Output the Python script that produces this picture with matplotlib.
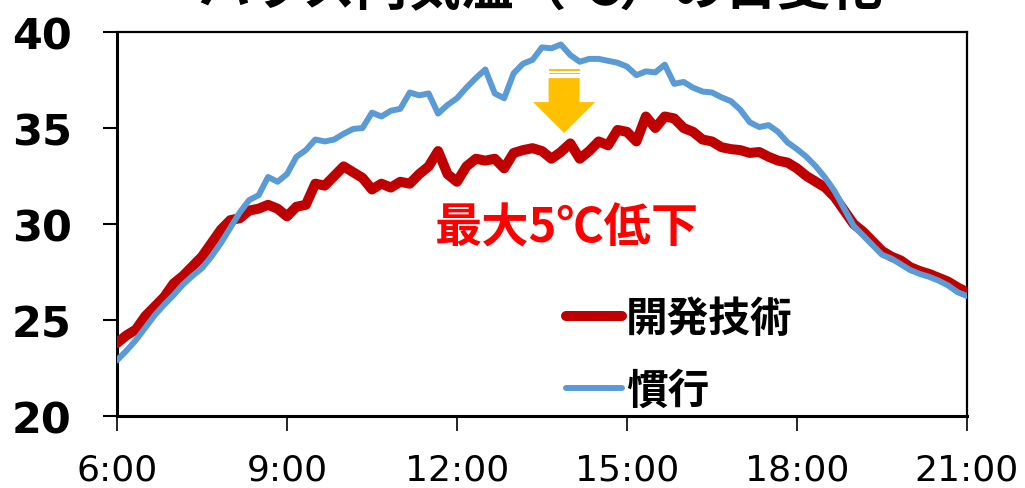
import numpy as np
import matplotlib
matplotlib.use("Agg")
import matplotlib.pyplot as plt
from matplotlib.lines import Line2D

JP = ['Noto Sans CJK JP', 'DejaVu Sans']

# ハウス内気温 (℃), 10分間隔 6:00〜21:00
kaihatsu = [
    23.8, 24.2, 24.5, 25.2, 25.7, 26.2, 26.9, 27.3, 27.8, 28.3,
    29.0, 29.7, 30.2, 30.3, 30.7, 30.8, 31.0, 30.8, 30.4, 30.9,
    31.0, 32.1, 32.0, 32.5, 33.0, 32.7, 32.4, 31.8, 32.1, 31.9,
    32.2, 32.1, 32.6, 33.0, 33.8, 32.6, 32.2, 33.0, 33.4, 33.3,
    33.4, 32.9, 33.7, 33.85, 33.95, 33.8, 33.4, 33.75, 34.2, 33.4,
    33.8, 34.3, 34.1, 34.9, 34.8, 34.3, 35.6, 35.0, 35.6, 35.5,
    35.0, 34.8, 34.4, 34.3, 34.0, 33.9, 33.85, 33.7, 33.75, 33.5,
    33.3, 33.2, 32.9, 32.5, 32.2, 31.9, 31.4, 30.7, 30.0, 29.6,
    29.1, 28.6, 28.3, 28.1, 27.75, 27.55, 27.4, 27.2, 27.0, 26.7,
    26.45,
]
kanko = [
    22.9, 23.4, 23.95, 24.6, 25.25, 25.8, 26.3, 26.85, 27.3, 27.7,
    28.3, 29.0, 29.8, 30.6, 31.25, 31.5, 32.45, 32.2, 32.6, 33.5,
    33.85, 34.4, 34.3, 34.4, 34.7, 34.95, 35.0, 35.8, 35.6, 35.9,
    36.0, 36.85, 36.7, 36.8, 35.75, 36.2, 36.55, 37.1, 37.6, 38.05,
    36.8, 36.55, 37.85, 38.35, 38.55, 39.2, 39.15, 39.35, 38.8, 38.45,
    38.6, 38.6, 38.5, 38.4, 38.2, 37.75, 37.95, 37.9, 38.3, 37.3,
    37.4, 37.1, 36.9, 36.85, 36.6, 36.4, 35.95, 35.3, 35.05, 35.15,
    34.8, 34.25, 33.9, 33.5, 33.0, 32.4, 31.7, 30.8, 29.9, 29.4,
    28.9, 28.4, 28.2, 27.9, 27.6, 27.4, 27.25, 27.05, 26.8, 26.45,
    26.25,
]
hours = 6 + np.arange(len(kaihatsu)) / 6.0

xticks = [6, 9, 12, 15, 18, 21]
xlabels = ["6:00", "9:00", "12:00", "15:00", "18:00", "21:00"]
yticks = [20, 25, 30, 35, 40]

RED = "#C00000"
BLUE = "#5B9BD5"
GOLD = "#FFC000"

fig = plt.figure(figsize=(10.25, 4.89), dpi=100)
ax = fig.add_axes([0.1141, 0.1472, 0.8293, 0.7853])

ax.plot(hours, kaihatsu, color=RED, lw=7.2, solid_joinstyle="round",
        solid_capstyle="round", zorder=3)
ax.plot(hours, kanko, color=BLUE, lw=4.3, solid_joinstyle="round",
        solid_capstyle="round", zorder=4)

ax.set_xlim(6, 21)
ax.set_ylim(20, 40)
ax.set_xticks(xticks)
ax.set_xticklabels(xlabels, fontsize=26)
ax.set_yticks(yticks)
ax.set_yticklabels([str(v) for v in yticks], fontweight="bold", fontsize=31)
ax.tick_params(axis="y", direction="out", length=10, width=1.5, pad=22.5)
ax.tick_params(axis="x", direction="out", length=11, width=1.2, pad=15)
for side in ["left", "bottom"]:
    ax.spines[side].set_linewidth(2.2)
for side in ["top", "right"]:
    ax.spines[side].set_linewidth(1.6)

# 下向きの矢印 (縞付き)
ax_c, top = 13.89, 38.07
shaft_w, head_w = 0.273, 0.547
shaft_top, head_y, tip_y = 37.6, 36.35, 34.74
ax.fill([ax_c - shaft_w, ax_c + shaft_w, ax_c + shaft_w, ax_c + head_w, ax_c,
         ax_c - head_w, ax_c - shaft_w],
        [shaft_top, shaft_top, head_y, head_y, tip_y, head_y, head_y],
        color=GOLD, lw=0, zorder=5)
for y0, y1 in [(top, 37.97), (37.89, 37.81)]:
    ax.fill([ax_c - shaft_w, ax_c + shaft_w, ax_c + shaft_w, ax_c - shaft_w],
            [y0, y0, y1, y1], color=GOLD, lw=0, zorder=5)

ax.text(13.94, 29.84, "最大5℃低下", color="#FF0000", fontsize=34,
        fontweight="bold", family=JP, ha="center", va="center", zorder=6)

handles = [Line2D([], [], color=RED, lw=7.2, solid_capstyle="round"),
           Line2D([], [], color=BLUE, lw=4.3, solid_capstyle="round")]
leg = ax.legend(handles, ["開発技術", "慣行"], loc="upper left",
                bbox_to_anchor=(0.528, 0.308), frameon=False,
                prop={"family": JP, "weight": "bold", "size": 30},
                handlelength=1.35, handletextpad=0.1, labelspacing=0.71,
                borderaxespad=0, borderpad=0)

fig.text(0.527, 0.99, "ハウス内気温（℃）の日変化", family=JP, fontsize=38,
         fontweight="bold", ha="center", va="baseline")

fig.savefig("out.png", dpi=100)
